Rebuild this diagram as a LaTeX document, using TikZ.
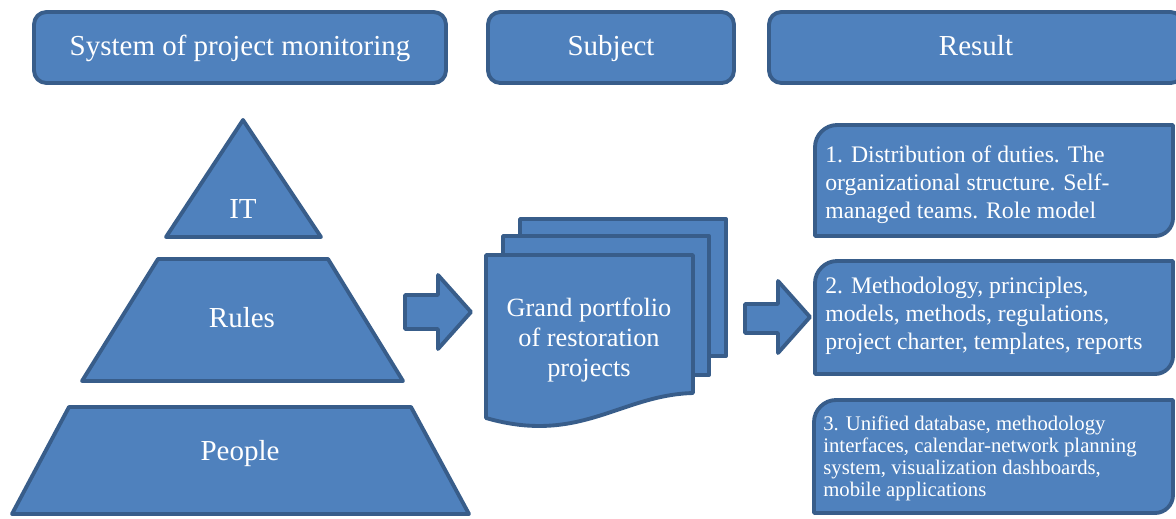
\documentclass[tikz,border=0pt]{standalone}
\usepackage{fontspec}
\setmainfont{Liberation Serif}
\usetikzlibrary{positioning}
\definecolor{boxfill}{RGB}{79,129,189}
\definecolor{boxline}{RGB}{56,93,138}

% result box: x1, y1, x2, y2 (round top left and bottom right)
\newcommand{\resbox}[4]{%
  \draw[blueshape] (#1,#4) -- (#1,#2+22) .. controls (#1,#2+10) and (#1+10,#2) .. (#1+22,#2)
    -- (#3,#2) -- (#3,#4-18) .. controls (#3,#4-8) and (#3-8,#4) .. (#3-18,#4) -- cycle;}

\begin{document}
\begin{tikzpicture}[x=0.02cm, y=-0.02cm,
    blueshape/.style={fill=boxfill, draw=boxline, line width=2.2pt, line join=round},
    headbox/.style={blueshape, rounded corners=7pt, minimum height=1.42cm, text=white,
      text height=2.1ex, text depth=0.2ex, font=\fontsize{16.5}{19}\selectfont},
    lvltext/.style={text=white, inner sep=0pt, font=\fontsize{16.5}{19}\selectfont},
    restext/.style={text=white, inner sep=0pt, align=left, anchor=west,
      font=\fontsize{13.5}{15.9}\selectfont}]
  \clip (0,0) rectangle (1176,518);

  % header
  \node[headbox, minimum width=8.24cm] (system) at (240,47.5) {System of project monitoring};
  \node[headbox, minimum width=4.92cm] (subject) at (611,47.5) {Subject};
  \node[headbox, minimum width=8.28cm] (result) at (976,47.5) {Result};

  % pyramid
  \draw[blueshape] (243,120) -- (321,237) -- (166,237) -- cycle;
  \draw[blueshape] (158,259) -- (328,259) -- (403,381) -- (82,381) -- cycle;
  \draw[blueshape] (69,407) -- (411,407) -- (469,514) -- (12,514) -- cycle;
  \node[lvltext] (it) at (243,209) {IT};
  \node[lvltext] (rules) at (242,318) {Rules};
  \node[lvltext] (people) at (240,454) {People};

  % block arrows
  \draw[blueshape] (405,295) -- (438,295) -- (438,275) -- (471,312) -- (438,349) -- (438,329) -- (405,329) -- cycle;
  \draw[blueshape] (745,304) -- (778,304) -- (778,281) -- (810,317) -- (778,353) -- (778,333) -- (745,333) -- cycle;

  % document stack
  \draw[blueshape] (520,219) rectangle (726,356);
  \draw[blueshape] (503,236) rectangle (709,375);
  \draw[blueshape] (486,255) -- (693,255) -- (693,393) .. controls (620,395) and (580,445) .. (486,418) -- cycle;
  \node[lvltext, align=center, font=\fontsize{15}{17}\selectfont] (portfolio) at (589,340)
    {Grand portfolio\\of restoration\\projects};

  % results
  \resbox{815}{125}{1173}{236}
  \resbox{815}{261}{1173}{374}
  \resbox{814}{400}{1173}{513}
  \node[restext] (duties) at (825,185)
    {1. Distribution of duties. The\\organizational structure. Self-\\managed teams. Role model};
  \node[restext] (methods) at (825,316)
    {2. Methodology, principles,\\models, methods, regulations,\\project charter, templates, reports};
  \node[restext, font=\fontsize{11.8}{12.5}\selectfont] (database) at (823,458)
    {3. Unified database, methodology\\interfaces, calendar-network planning\\system, visualization dashboards,\\mobile applications};
\end{tikzpicture}
\end{document}
